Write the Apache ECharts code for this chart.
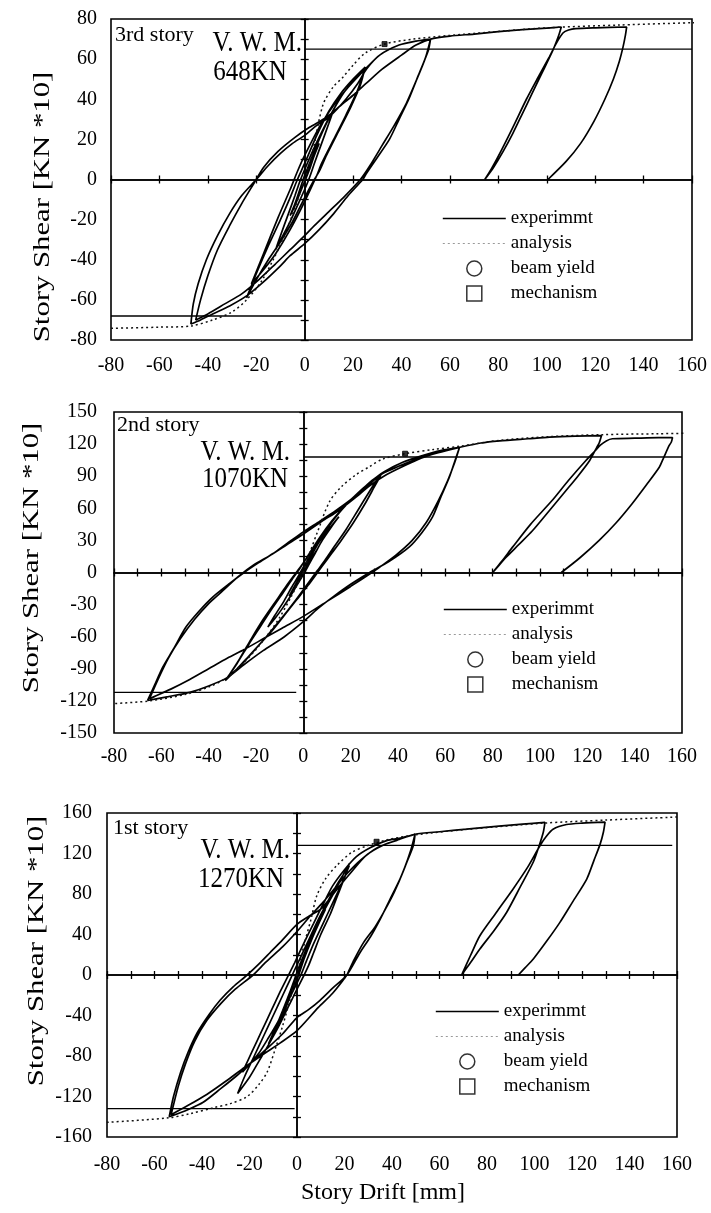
<!DOCTYPE html>
<html lang="en">
<head>
<meta charset="UTF-8">
<title>Story Shear - Story Drift</title>
<script src="https://cdn.jsdelivr.net/npm/echarts@6.0.0/dist/echarts.min.js"></script>
<style>
    html, body { margin: 0; padding: 0; background: #fff; }
    #main { width: 711px; height: 1213px; }
</style>
</head>
<body>
<div id="main"></div>
<script>
// ---- 3rd story : experiment loop, [drift mm, shear KN*10] ----
var exp3rd = [
    [0,0],[2,7],[4,13],[6,18],[4,12],[2,5],[0,-1],[-2,-7],[-4,-13],[-6,-18],[-4,-12],[-2,-5],[0,2],[3,11],[6,20],[9,28],[12,35],
    [10,28],[7,18],[4,8],[2,1],[0,-5],[-3,-13],[-6,-21],[-9,-28],[-12,-35],[-10,-28],[-7,-18],[-4,-8],[-2,-1],[0,5],[4,16],[8,26],[12,35],
    [16,43],[20,49],[25,56],
    [23,47],[19,36],[14,24],[9,12],[6,4],[4,0],[0,-9],[-5,-21],[-10,-31],[-15,-40],[-20,-50],[-24,-59],
    [-20,-47],[-15,-33],[-10,-20],[-6,-9],[-3,0],[0,8],[5,22],[10,34],[15,43],[20,50],[25,56],
    [22,45],[17,32],[12,20],[7,8],[5,2],[0,-11],[-6,-25],[-12,-37],[-17,-45],[-22,-52],
    [-17,-37],[-11,-19],[-6,-5],[-3,4],[0,12],[6,26],[12,37],[18,46],[25,55],[31,62],[39,67],[46,69],[52,70],
    [51,64],[47,52],[43,40],[39,30],[35,20],[30,11],[25.5,3],[24,0],[18,-8],[12,-17],[6,-25],[0,-32],[-6,-38],[-10,-43],[-17,-51],[-24,-58],[-31,-63],[-38,-67],[-43,-70],[-47,-72],
    [-46,-62],[-44,-52],[-40.6,-40],[-36,-28],[-31,-17],[-26,-8],[-20,0],[-15,7],[-10,13],[-5,18],[0,22],[5,27],[10,31],[17,40],[22,48],[25.5,55],[31,62],[39,67],[46,69],[52,70],
    [50,61],[46,49],[42,38],[37,27],[32,17],[27,7],[23,0],[16,-9],[10,-16],[4,-23],[0,-28],[-6,-35],[-12,-42],[-19,-50],[-26,-57],[-33,-62],[-40,-67],[-45,-70],
    [-43,-60],[-40,-48],[-36,-35],[-31,-23],[-26,-12],[-21,-2],[-17,6],[-11,14],[-4,21],[2,26],[9,31],[15,37],[20,42],[25.5,48],[32,55],[40,62],[46,67],[52,70],
    [60,71.5],[70,72.5],[80,73.7],[90,74.7],[100,75.5],[106,76],
    [105,72],[102.6,64.6],[98,53],[94,43],[90,33],[86,23],[82,14],[78,6],[74.4,0],
    [77,5],[80.6,13],[86,26],[91.6,40],[96,50],[101,61],[104,68],[106.7,73],[109,74.5],[112,75.2],[120,75.6],[133,76],
    [132.5,72],[131.5,66],[130,59],[127.5,50],[124,40],[119.5,29],[114,18],[108,9],[100.5,0]
];
var anaPos3rd = [[0,0],[3,12],[7.5,37],[11.7,46],[15.8,51],[20,57],[25,63],[33,67.5],[45,70],[60,71.8],[80,73.8],[100,75.6],[130,77],[164,78.3]];
var anaNeg3rd = [[0,0],[-4,-14],[-8,-27],[-13,-40],[-18,-51],[-24,-60],[-30,-66],[-38,-70],[-47,-73],[-60,-73.6],[-80,-74.2],[-100,-74.8],[-124,-75.5]];
var mech3rd = [[33,67.5]];
var yield3rd = [];
var vwmPos3rd = [[0,65],[160,65]];
var vwmNeg3rd = [[-80,-68],[-1,-68]];

// ---- 2nd story ----
var exp2nd = [
    [0,0],[2,8],[4,15],[6,22],[4,15],[2,7],[0,0],[-2,-8],[-4,-15],[-6,-22],[-4,-14],[-2,-6],[0,2],
    [3,14],[6,26],[9,36],[12,44],[15,52],[12,43],[8,30],[5,18],[2,6],[0,-2],[-3,-13],[-6,-24],[-9,-34],[-12,-43],[-15,-51],
    [-12,-40],[-8,-26],[-5,-14],[-2,-3],[0,5],[4,20],[8,34],[12,47],[16,58],[20,68],[25,78],[29,86],[33,92],
    [30,80],[26,64],[21,46],[16,30],[12,18],[8,6],[6,0],[2,-12],[-3,-26],[-8,-40],[-13,-54],[-18,-66],[-23,-78],[-28,-90],[-33,-101],
    [-28,-85],[-23,-67],[-18,-50],[-13,-33],[-8,-17],[-4,-4],[-2,2],[2,16],[7,33],[12,48],[17,61],[22,72],[27,82],[32,90],
    [28,76],[23,58],[18,40],[13,24],[9,11],[6,2],[2,-10],[-4,-28],[-10,-45],[-16,-61],[-22,-76],[-27,-88],[-32,-98],
    [-27,-81],[-22,-62],[-17,-44],[-12,-28],[-7,-12],[-3,0],[0,9],[5,25],[10,42],[16,58],[22,72],[28,84],[34,94],[42,103],[50,109],[58,114],[66,117],
    [64,104],[61.7,89],[58,70],[54.6,52],[50,37],[44.8,24],[36,10],[28,0],[20,-11],[12.4,-23],[6,-34],[0,-46],[-8,-60],[-17,-73],[-25,-86],[-32,-98],[-40,-106],[-48,-112],[-57,-116],[-65.8,-119.6],
    [-63,-106],[-59.4,-88.5],[-55,-72],[-49.6,-51],[-44,-36],[-38.3,-23],[-31,-10],[-25,0],[-19,9],[-13,17.5],[-7,27],[0,38],[7,48],[13.8,58],[20,68],[27,81],[33.5,92.5],[40,99],[48,106],[57,112],[66,117],
    [64,103],[61,86],[57,67],[52,47],[46,30],[39,16],[31,3],[29,0],[20,-13],[10,-27],[0,-41],[-9,-52],[-17,-62],[-25,-72],[-32,-80],[-40,-90],[-48,-100],[-56,-109],[-63,-116],[-65,-118],
    [-61,-98],[-57,-80],[-52,-62],[-46,-44],[-40,-29],[-34,-17],[-27,-3],[-21,7],[-14,16],[-7,26],[0,36],[8,48],[15,58],[22,70],[28,81],[34,90],[42,99],[50,107],[58,113],[66,117],
    [75,121],[83,123],[95,125],[104,126.5],[115,127.5],[126,128],
    [125,121],[124,117],[121,104.7],[116,90],[111,76.6],[104,58],[96.8,39],[91,26],[85.6,14],[82,5],[80,0],
    [84,11],[88.4,23.7],[96,45],[105,67],[112,86],[119.4,104.7],[123,113],[125.5,119],[128,123],[130.6,125],[140,125.5],[150,126],[156,126],
    [155.5,122],[154.6,118.7],[152,106],[150.4,98.4],[145,82],[139,64.5],[132,46],[125,30],[117,14],[109,0]
];
var anaPos2nd = [[0,0],[3,20],[6,38],[11,66],[16,80],[22,91],[28,99],[33.5,106],[43,111],[55,115],[66,118],[83,123.5],[104,127],[126,128.8],[150,129.7],[171,130.5]];
var anaNeg2nd = [[0,0],[-5,-22],[-10,-42],[-15,-58],[-20,-72],[-26,-86],[-32,-98],[-40,-107],[-50,-114],[-65,-120],[-80,-122.5],[-100,-124.5],[-125,-126]];
var mech2nd = [[43,111]];
var yield2nd = [];
var vwmPos2nd = [[0,108],[160,108]];
var vwmNeg2nd = [[-80,-112],[-3,-112]];

// ---- 1st story ----
var exp1st = [
    [0,0],[2,12],[4,24],[6,34],[4,23],[2,11],[0,-1],[-2,-13],[-4,-25],[-6,-35],[-4,-23],[-2,-11],[0,2],
    [3,20],[6,37],[9,52],[12,65],[9,50],[6,34],[3,16],[1,2],[0,-4],[-3,-22],[-6,-40],[-9,-55],[-12,-68],[-9,-52],[-6,-35],[-3,-17],[-1,-4],[0,3],
    [4,26],[8,48],[12,66],[16,83],[19,97],[22,110],
    [20,96],[17,78],[14,60],[10,40],[7,22],[5,10],[3,0],[0,-14],[-4,-33],[-8,-52],[-12,-69],[-16,-85],[-20,-101],[-25,-117],
    [-22,-100],[-18,-80],[-14,-60],[-10,-40],[-6,-20],[-3,-5],[-2,0],[1,15],[5,35],[9,55],[13,73],[17,90],[22,108],
    [19,91],[15,71],[11,51],[7,31],[4,14],[2,2],[0,-8],[-4,-27],[-8,-46],[-12,-62],[-16,-77],[-20,-88],[-23,-96],
    [-19,-76],[-15,-56],[-11,-36],[-7,-16],[-4,-2],[-1,12],[3,32],[7,51],[11,70],[15,88],[20,104],[25,117],[31,126],[38,133],[43,135],[49.7,139],
    [49,128],[46,110],[43.4,95],[39,74],[35,55],[31,38],[26.5,22],[21,0],[15,-13],[9.7,-25],[5,-34],[0,-42],[-6,-58],[-12.8,-73],[-19,-86],[-25.4,-99.5],[-32,-112],[-39.5,-125.7],[-46,-133],[-53.8,-140],
    [-52,-120],[-49,-96],[-46,-77],[-42,-57],[-37,-39],[-32.4,-25],[-27,-12],[-21,0],[-16,11],[-11.4,22],[-6,35],[0,50],[5,58],[10,65],[14,76],[18,88],[23,102],[29,118],[36,128],[43,134],[49.7,139],
    [48,124],[45,104],[41,82],[37,64],[33,48],[28,32],[24,15],[22,5],[21,0],[15,-18],[9,-32],[0,-55],[-7,-67],[-14,-78],[-22,-91],[-30,-105],[-38,-118],[-46,-129],[-53,-138],
    [-50,-110],[-47,-88],[-43,-65],[-38,-45],[-32,-28],[-26,-14],[-18.5,0],[-13,13],[-6,28],[0,43],[5.5,58],[11,72],[16,86],[21,100],[27,114],[34,126],[42,133],[49.7,139],
    [60,141.5],[71.4,144],[85,147],[95,149],[104.4,150.8],
    [103.7,141],[102,128],[99.5,111.6],[94,87],[88.3,62],[83,44],[77,25.7],[73,12],[69.3,0],
    [73,19],[77,38.8],[84,62],[91,85],[97,106],[102.3,127.7],[105,137],[107.8,144],[113.5,148.6],[120,150],[129.7,151],
    [129,141],[127.6,129],[125,113],[122,94.8],[116,72],[110.7,52],[105,33],[99.5,15.8],[96,7],[93.2,0]
];
var anaPos1st = [[0,0],[3,30],[6,56],[8.3,78],[12,95],[16.7,108],[23,121],[30,128],[38,133.5],[50,138.5],[70,143.5],[104,150],[130,153],[160,156]];
var anaNeg1st = [[0,0],[-3,-25],[-6,-50],[-9,-72],[-12.6,-96],[-16,-108],[-21,-120],[-28,-127],[-35,-131],[-45,-137],[-54,-141],[-80,-145.5],[-100,-147.5],[-121,-150]];
var mech1st = [[33.5,131.6]];
var yield1st = [];
var vwmPos1st = [[0,128],[158,128]];
var vwmNeg1st = [[-80,-132],[-1,-132]];

// x ticks and labels
var driftMin = -80, driftMax = 160, driftStep = 20;
var legendNames = ['experimmt', 'analysis', 'beam yield', 'mechanism'];

var SERIF = '"Liberation Serif", "Times New Roman", serif';
var NO_DOT = {color: 'rgba(0,0,0,0)', borderWidth: 0};

var panels = [
    { grid: {left: 111, top: 19, width: 581, height: 321}, yMin: -80, yMax: 80, yStep: 20, xTick: 20, yTick: 10,
      xMargin: 16, yMargin: 14, exp: exp3rd, anaPos: anaPos3rd, anaNeg: anaNeg3rd, mech: mech3rd, yld: yield3rd,
      vwmPos: vwmPos3rd, vwmNeg: vwmNeg3rd, legend: {left: 437, top: 204},
      story: {text: '3rd story', x: 115, y: 35}, vwm: {x: 302, y: 43}, kn: {text: '648KN', x: 250, y: 72},
      yTitle: {x: 43, y: 207} },
    { grid: {left: 114, top: 412, width: 568, height: 321}, yMin: -150, yMax: 150, yStep: 30, xTick: 10, yTick: 15,
      xMargin: 14, yMargin: 17, exp: exp2nd, anaPos: anaPos2nd, anaNeg: anaNeg2nd, mech: mech2nd, yld: yield2nd,
      vwmPos: vwmPos2nd, vwmNeg: vwmNeg2nd, legend: {left: 438, top: 595},
      story: {text: '2nd story', x: 117, y: 425}, vwm: {x: 290, y: 452}, kn: {text: '1070KN', x: 245, y: 479},
      yTitle: {x: 32, y: 558} },
    { grid: {left: 107, top: 813, width: 570, height: 324}, yMin: -160, yMax: 160, yStep: 40, xTick: 10, yTick: 20,
      xMargin: 18, yMargin: 15, exp: exp1st, anaPos: anaPos1st, anaNeg: anaNeg1st, mech: mech1st, yld: yield1st,
      vwmPos: vwmPos1st, vwmNeg: vwmNeg1st, legend: {left: 430, top: 997},
      story: {text: '1st story', x: 113, y: 828}, vwm: {x: 290, y: 850}, kn: {text: '1270KN', x: 241, y: 879},
      yTitle: {x: 37, y: 951} }
];

var grids = [], xAxes = [], yAxes = [], series = [], legends = [], texts = [];

panels.forEach(function (p, k) {
    var a = 3 * k;   // first axis index of this panel
    grids.push(Object.assign({show: true, borderColor: '#000', borderWidth: 1.6, backgroundColor: 'transparent'}, p.grid));

    // labelled axes (the box itself is the grid border)
    xAxes.push({
        gridIndex: k, type: 'value', min: driftMin, max: driftMax, interval: driftStep, position: 'bottom',
        axisLine: {show: false, onZero: false}, axisTick: {show: false}, splitLine: {show: false},
        axisLabel: {margin: p.xMargin, fontFamily: SERIF, fontSize: 20, color: '#000'}
    });
    yAxes.push({
        gridIndex: k, type: 'value', min: p.yMin, max: p.yMax, interval: p.yStep, position: 'left',
        axisLine: {show: false, onZero: false}, axisTick: {show: false}, splitLine: {show: false},
        axisLabel: {margin: p.yMargin, fontFamily: SERIF, fontSize: 20, color: '#000'}
    });
    // zero lines with ticks crossing them (one axis ticks inside, one outside)
    [true, false].forEach(function (inside) {
        xAxes.push({
            gridIndex: k, type: 'value', min: driftMin, max: driftMax, interval: p.xTick, position: 'bottom',
            axisLine: {show: true, onZero: true, onZeroAxisIndex: a, lineStyle: {color: '#000', width: 1.5}},
            axisTick: {show: true, inside: inside, length: 4, lineStyle: {color: '#000', width: 1.3}},
            axisLabel: {show: false}, splitLine: {show: false}
        });
        yAxes.push({
            gridIndex: k, type: 'value', min: p.yMin, max: p.yMax, interval: p.yTick, position: 'left',
            axisLine: {show: true, onZero: true, onZeroAxisIndex: a, lineStyle: {color: '#000', width: 1.5}},
            axisTick: {show: true, inside: inside, length: 4, lineStyle: {color: '#000', width: 1.3}},
            axisLabel: {show: false}, splitLine: {show: false}
        });
    });

    var base = {xAxisIndex: a, yAxisIndex: a, symbol: 'none', silent: true};
    series.push(Object.assign({}, base, {type: 'line', name: 'vwm', data: p.vwmPos, lineStyle: {color: '#000', width: 1.4}}));
    series.push(Object.assign({}, base, {type: 'line', name: 'vwm', data: p.vwmNeg, lineStyle: {color: '#000', width: 1.4}}));
    series.push(Object.assign({}, base, {
        type: 'line', name: 'experimmt', data: p.exp, smooth: 0.25, z: 3,
        itemStyle: {color: '#000'}, lineStyle: {color: '#000', width: 1.7}
    }));
    [p.anaPos, p.anaNeg].forEach(function (d) {
        series.push(Object.assign({}, base, {
            type: 'line', name: 'analysis', data: d, smooth: 0.3, clip: false, z: 4,
            itemStyle: {color: '#111'}, lineStyle: {color: '#111', width: 1.5, type: [2, 3]}
        }));
    });
    series.push({
        type: 'scatter', name: 'beam yield', xAxisIndex: a, yAxisIndex: a, data: p.yld, symbol: 'circle', symbolSize: 7,
        itemStyle: {color: '#fff', borderColor: '#000', borderWidth: 1.5}, z: 5, silent: true
    });
    series.push({
        type: 'scatter', name: 'mechanism', xAxisIndex: a, yAxisIndex: a, data: p.mech, symbol: 'rect', symbolSize: 5,
        itemStyle: {color: '#000', borderColor: '#000', borderWidth: 1}, z: 5, silent: true
    });

    legends.push({
        orient: 'vertical', left: p.legend.left, top: p.legend.top, itemWidth: 63, itemHeight: 15, itemGap: 6,
        selectedMode: false, symbolKeepAspect: true, textStyle: {fontFamily: SERIF, fontSize: 19, color: '#000'},
        data: [
            {name: legendNames[0], itemStyle: NO_DOT, lineStyle: {color: '#000', width: 1.6}},
            {name: legendNames[1], itemStyle: NO_DOT, lineStyle: {color: '#999', width: 1.2, type: [2, 3]}},
            {name: legendNames[2], icon: 'circle', itemStyle: {color: '#fff', borderColor: '#000', borderWidth: 1.5}},
            {name: legendNames[3], icon: 'path://M0,0L10,0L10,10L0,10Z', itemStyle: {color: '#fff', borderColor: '#000', borderWidth: 1.5}}
        ]
    });

    // annotations
    texts.push({type: 'text', x: p.story.x, y: p.story.y, z: 10,
        style: {text: p.story.text, font: '22px ' + SERIF, fill: '#000', align: 'left', verticalAlign: 'middle'}});
    texts.push({type: 'text', x: p.vwm.x, y: p.vwm.y, scaleY: 1.2, z: 10,
        style: {text: 'V. W. M.', font: '25px ' + SERIF, fill: '#000', align: 'right', verticalAlign: 'middle'}});
    texts.push({type: 'text', x: p.kn.x, y: p.kn.y, scaleY: 1.2, z: 10,
        style: {text: p.kn.text, font: '25px ' + SERIF, fill: '#000', align: 'center', verticalAlign: 'middle'}});
    texts.push({type: 'text', x: p.yTitle.x, y: p.yTitle.y, rotation: Math.PI / 2, scaleX: 1.28, z: 10,
        style: {text: 'Story Shear [KN *10]', font: '24px ' + SERIF, fill: '#000', align: 'center', verticalAlign: 'middle'}});
});

texts.push({type: 'text', x: 383, y: 1193, z: 10,
    style: {text: 'Story Drift [mm]', font: '24px ' + SERIF, fill: '#000', align: 'center', verticalAlign: 'middle'}});

var myChart = echarts.init(document.getElementById('main'));
myChart.setOption({
    backgroundColor: '#fff',
    animation: false,
    grid: grids,
    xAxis: xAxes,
    yAxis: yAxes,
    legend: legends,
    series: series,
    graphic: texts
});
</script>
</body>
</html>
